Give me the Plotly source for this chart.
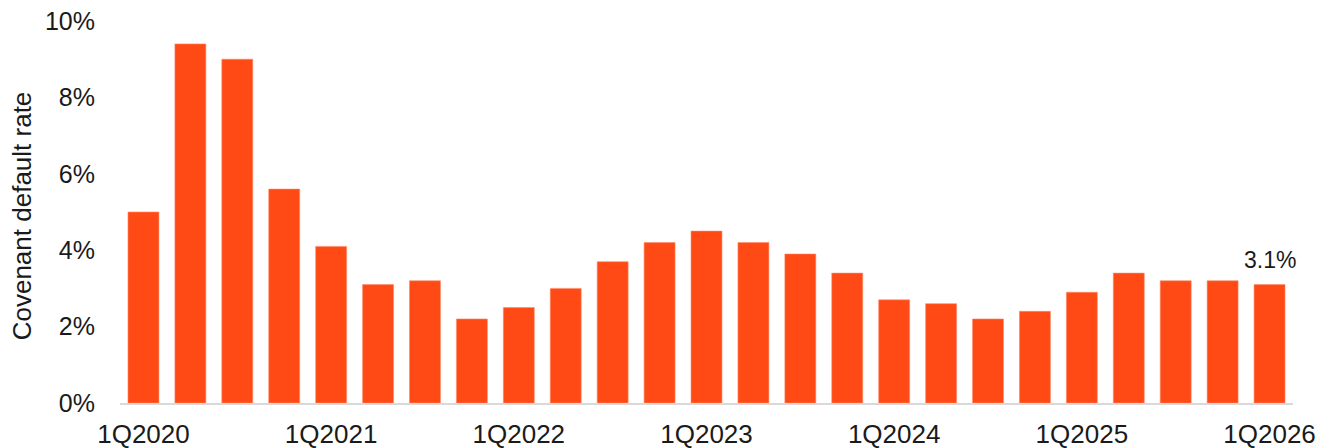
import plotly.graph_objects as go

# Quarterly covenant default rate, 1Q2020 .. 1Q2026 (percent)
quarters = [
    "1Q2020", "2Q2020", "3Q2020", "4Q2020",
    "1Q2021", "2Q2021", "3Q2021", "4Q2021",
    "1Q2022", "2Q2022", "3Q2022", "4Q2022",
    "1Q2023", "2Q2023", "3Q2023", "4Q2023",
    "1Q2024", "2Q2024", "3Q2024", "4Q2024",
    "1Q2025", "2Q2025", "3Q2025", "4Q2025",
    "1Q2026",
]
default_rate = [
    5.0, 9.4, 9.0, 5.6,
    4.1, 3.1, 3.2, 2.2,
    2.5, 3.0, 3.7, 4.2,
    4.5, 4.2, 3.9, 3.4,
    2.7, 2.6, 2.2, 2.4,
    2.9, 3.4, 3.2, 3.2,
    3.1,
]
# only the first quarter of each year gets an axis label
x_tick_labels = [q for q in quarters if q.startswith("1Q")]
y_tick_values = [0, 2, 4, 6, 8, 10]
y_tick_labels = [f"{v}%" for v in y_tick_values]

FONT = "Liberation Sans, Arial, sans-serif"
BAR_COLOR = "#FF4A15"

fig = go.Figure(
    go.Bar(
        x=quarters,
        y=default_rate,
        marker=dict(color=BAR_COLOR, line=dict(color="#FF8A66", width=0.6)),
        hoverinfo="x+y",
    )
)

fig.update_layout(
    width=1331,
    height=448,
    margin=dict(l=120, r=38, t=21, b=45, autoexpand=False),
    paper_bgcolor="white",
    plot_bgcolor="white",
    bargap=0.34,
    showlegend=False,
    font=dict(family=FONT, size=24, color="#1a1a1a"),
    xaxis=dict(
        type="category",
        range=[-0.5, len(quarters) - 0.5],
        tickmode="array",
        tickvals=x_tick_labels,
        ticktext=x_tick_labels,
        tickfont=dict(size=26),
        showline=True,
        linecolor="#D9D9D9",
        linewidth=2,
        showgrid=False,
        ticks="",
        ticklabelstandoff=7,
        automargin=False,
    ),
    yaxis=dict(
        range=[0, 10],
        tickmode="array",
        tickvals=y_tick_values,
        ticktext=y_tick_labels,
        tickfont=dict(size=25),
        showgrid=False,
        zeroline=False,
        showline=False,
        ticks="",
        ticklabelstandoff=24,
        automargin=False,
    ),
    annotations=[
        dict(
            text="Covenant default rate",
            xref="paper",
            yref="paper",
            x=-0.084,
            y=0.49,
            xanchor="center",
            yanchor="middle",
            textangle=-90,
            showarrow=False,
            font=dict(family=FONT, size=26, color="#1a1a1a"),
        ),
        # value label above the latest quarter's bar
        dict(
            text=f"{default_rate[-1]:.1f}%",
            x=quarters[-1],
            y=default_rate[-1],
            xref="x",
            yref="y",
            xanchor="center",
            yanchor="bottom",
            yshift=10,
            showarrow=False,
            font=dict(family=FONT, size=23, color="#1a1a1a"),
        ),
    ],
)

fig.write_html("out.html")
